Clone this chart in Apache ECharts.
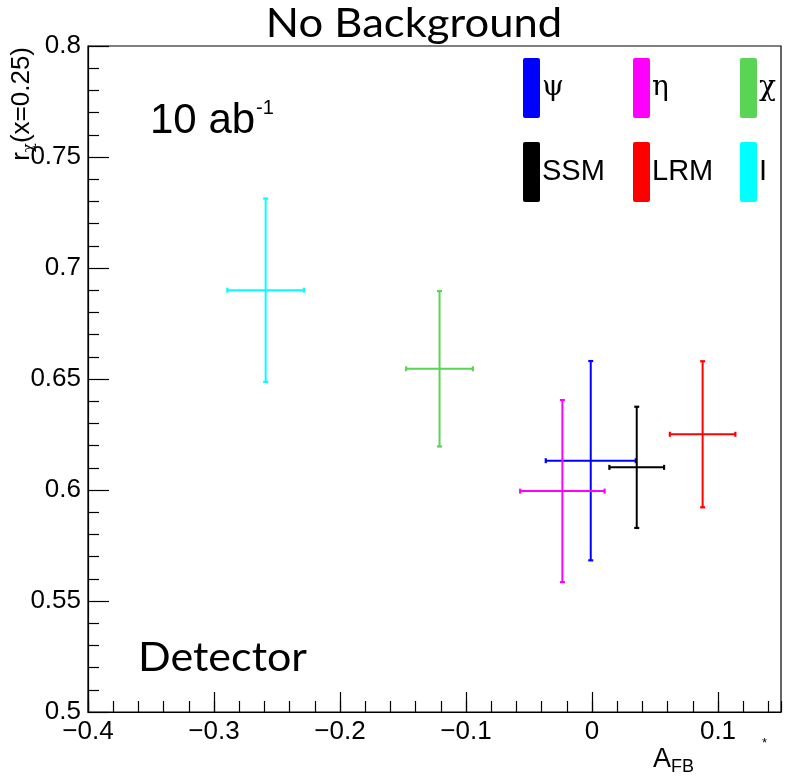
<!DOCTYPE html>
<html>
<head>
<meta charset="utf-8">
<script src="https://cdn.jsdelivr.net/npm/echarts@6/dist/echarts.min.js"></script>
<style>
  html, body { margin: 0; padding: 0; background: #fff; }
  #chart { width: 788px; height: 778px; }
</style>
</head>
<body>
<div id="chart"></div>
<script>
// Z' models: forward-backward asymmetry vs. r_chi at x = 0.25
const modelNames = ['ψ', 'η', 'χ', 'SSM', 'LRM', 'I'];
const modelColors = ['#0000ff', '#ff00ff', '#59d454', '#000000', '#ff0000', '#00ffff'];
const afbValues = [-0.001, -0.0235, -0.121, 0.0355, 0.0878, -0.259];
const afbErrors = [0.0357, 0.0335, 0.0265, 0.0217, 0.026, 0.0304];
const rchiValues = [0.6132, 0.5995, 0.6546, 0.6102, 0.6251, 0.690];
const rchiErrors = [0.0449, 0.041, 0.035, 0.0273, 0.0329, 0.0413];

const xTicks = { min: -0.4, max: 0.15, major: 0.1, minor: 0.02 };
const yTicks = { min: 0.5, max: 0.8, major: 0.05 };

const SANS = '"Liberation Sans", Arial, sans-serif';
const TITLE_FONT = 'Lato, "Open Sans", sans-serif';
const greek = new Set(['ψ', 'η', 'χ']);

function fmtX(v) {
  const r = Math.round(v * 100) / 100;
  if (Math.abs(r) < 1e-9) return '0';
  return (r < 0 ? '\u2212' : '') + String(Math.abs(r));
}
function fmtY(v) {
  return String(Math.round(v * 100) / 100);
}

// error-bar cross with small end caps
function renderCross(params, api) {
  const x = api.value(0), y = api.value(1), ex = api.value(2), ey = api.value(3);
  const color = api.visual('color');
  const l = api.coord([x - ex, y]), r = api.coord([x + ex, y]);
  const t = api.coord([x, y + ey]), b = api.coord([x, y - ey]);
  const style = { stroke: color, lineWidth: 2 };
  const capStyle = { stroke: color, lineWidth: 2.2 };
  const c = 2.5;
  return {
    type: 'group',
    children: [
      { type: 'line', shape: { x1: l[0], y1: l[1], x2: r[0], y2: r[1] }, style },
      { type: 'line', shape: { x1: t[0], y1: t[1], x2: b[0], y2: b[1] }, style },
      { type: 'line', shape: { x1: l[0], y1: l[1] - c, x2: l[0], y2: l[1] + c }, style: capStyle },
      { type: 'line', shape: { x1: r[0], y1: r[1] - c, x2: r[0], y2: r[1] + c }, style: capStyle },
      { type: 'line', shape: { x1: t[0] - c, y1: t[1], x2: t[0] + c, y2: t[1] }, style: capStyle },
      { type: 'line', shape: { x1: b[0] - c, y1: b[1], x2: b[0] + c, y2: b[1] }, style: capStyle }
    ]
  };
}

const series = modelNames.map((name, i) => ({
  name,
  type: 'custom',
  xAxisIndex: 0,
  yAxisIndex: 0,
  itemStyle: { color: modelColors[i] },
  renderItem: renderCross,
  encode: { x: 0, y: 1 },
  data: [[afbValues[i], rchiValues[i], afbErrors[i], rchiErrors[i]]],
  z: 5
}));

// 3 x 2 legend grid in the upper right corner
const legendCols = [523, 633, 740];
const legendRows = [58, 142];
const legendIcon = 'path://M2,0 H15 A2,2 0 0 1 17,2 V58 A2,2 0 0 1 15,60 H2 A2,2 0 0 1 0,58 V2 A2,2 0 0 1 2,0 Z';
const legends = modelNames.map((name, i) => ({
  data: [name],
  left: legendCols[i % 3],
  top: legendRows[Math.floor(i / 3)],
  padding: 0,
  itemWidth: 17,
  itemHeight: 60,
  icon: legendIcon,
  selectedMode: false,
  textStyle: greek.has(name)
    ? { fontFamily: '"DejaVu Serif", "Liberation Serif", serif', fontSize: 28, color: '#000', padding: [0, 0, 0, -3] }
    : { fontFamily: SANS, fontSize: 29, color: '#000', padding: [0, 0, 0, -3] }
}));

const chart = echarts.init(document.getElementById('chart'), null, { renderer: 'canvas' });
chart.setOption({
  animation: false,
  backgroundColor: '#fff',
  grid: {
    left: 88, top: 46, right: 7, bottom: 66,
    show: true, borderColor: '#000', borderWidth: 1.2, backgroundColor: 'transparent'
  },
  xAxis: [
    {
      type: 'value', min: xTicks.min, max: xTicks.max, interval: xTicks.major,
      axisLine: { show: true, onZero: false, lineStyle: { color: '#000', width: 1.2 } },
      axisTick: { show: true, inside: true, length: 20, lineStyle: { color: '#000', width: 1.2 } },
      axisLabel: {
        show: true, formatter: fmtX, showMaxLabel: false, margin: 7,
        fontFamily: SANS, fontSize: 26, color: '#000'
      },
      splitLine: { show: false }
    },
    {
      type: 'value', min: xTicks.min, max: xTicks.max, interval: xTicks.minor,
      position: 'bottom', gridIndex: 0,
      axisLine: { show: false },
      axisTick: { show: true, inside: true, length: 11, lineStyle: { color: '#000', width: 1.2 } },
      axisLabel: { show: false },
      splitLine: { show: false }
    }
  ],
  yAxis: {
    type: 'value', min: yTicks.min, max: yTicks.max, interval: yTicks.major,
    axisLine: { show: true, onZero: false, lineStyle: { color: '#000', width: 1.2 } },
    axisTick: { show: true, inside: true, length: 21, lineStyle: { color: '#000', width: 1.2 } },
    minorTick: { show: true, splitNumber: 5, length: 11, lineStyle: { color: '#000', width: 1.2 } },
    axisLabel: {
      show: true, formatter: fmtY, margin: 7,
      fontFamily: SANS, fontSize: 26, color: '#000'
    },
    splitLine: { show: false },
    minorSplitLine: { show: false }
  },
  legend: legends,
  series,
  graphic: [
    {
      type: 'text', x: 414, y: 4, scaleX: 1.09, z: 10,
      style: { text: 'No Background', font: '40px ' + TITLE_FONT, fill: '#000', align: 'center', verticalAlign: 'top' }
    },
    {
      type: 'text', left: 150, top: 98, z: 10,
      style: {
        text: '{a|10 ab}{s|-1}',
        rich: {
          a: { fontFamily: SANS, fontSize: 42, color: '#000', verticalAlign: 'bottom' },
          s: { fontFamily: SANS, fontSize: 20, color: '#000', verticalAlign: 'top', padding: [0, 0, 24, 1] }
        }
      }
    },
    {
      type: 'text', x: 138, y: 637, scaleX: 1.05, z: 10,
      style: { text: 'Detector', font: '41px ' + TITLE_FONT, fill: '#000', align: 'left', verticalAlign: 'top' }
    },
    {
      type: 'text', x: 22, y: 47, rotation: Math.PI / 2, z: 10,
      style: {
        text: '{r|r}{s|χ}{n|(x=0.25)}',
        align: 'right', verticalAlign: 'middle',
        rich: {
          r: { fontFamily: SANS, fontSize: 26, color: '#000' },
          s: { fontFamily: '"DejaVu Serif", serif', fontSize: 15, color: '#000', padding: [14, 0, 0, 0] },
          n: { fontFamily: SANS, fontSize: 26, color: '#000' }
        }
      }
    },
    {
      type: 'text', left: 653, top: 746, z: 10,
      style: {
        text: '{a|A}{s|FB}',
        rich: {
          a: { fontFamily: SANS, fontSize: 27, color: '#000' },
          s: { fontFamily: SANS, fontSize: 18, color: '#000', padding: [16, 0, 0, 0] }
        }
      }
    },
    {
      type: 'text', left: 762, top: 737, z: 10,
      style: { text: '*', font: '13px ' + SANS, fill: '#000' }
    }
  ]
});
</script>
</body>
</html>
